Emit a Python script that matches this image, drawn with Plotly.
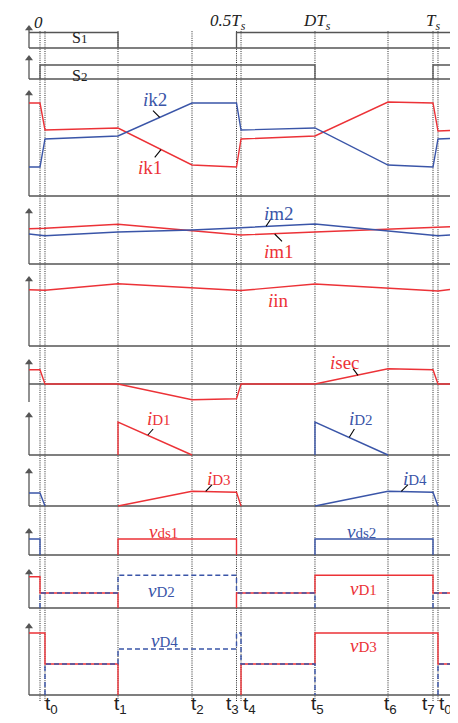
import plotly.graph_objects as go

RED = "#ec3237"
BLUE = "#3a55a8"
GRAY = "#555555"
SERIF = "Liberation Serif"
SANS = "Liberation Sans"

W, H = 458, 723

# ---- time instants (fraction of Ts) ----
T_START = -0.028
T0 = 0.0127
T1 = 0.1985
T2 = 0.3868
T3 = 0.5
T4 = 0.5115
T5 = 0.6997
T6 = 0.8855
T7 = 1.0
T0B = 1.0127
T_END = 1.0687
T_AXIS_END = 1.079

t_grid = [T_START, 0.0, T0, T1, T2, T3, T4, T5, T6, T7, T0B, T_END]
event_lines = [0.0, T0, T1, T2, T3, T4, T5, T6, T7, T0B]
tick_labels = ["t<sub>0</sub>", "t<sub>1</sub>", "t<sub>2</sub>", "t<sub>3</sub>", "t<sub>4</sub>",
               "t<sub>5</sub>", "t<sub>6</sub>", "t<sub>7</sub>", "t<sub>0</sub>"]
tick_pos = [0.028, 0.204, 0.400, 0.490, 0.532, 0.707, 0.893, 0.988, 1.033]
top_labels = ["<i>0</i>", "<i>0.5T<sub>s</sub></i>", "<i>DT<sub>s</sub></i>", "<i>T<sub>s</sub></i>"]
top_pos = [-0.004, 0.478, 0.705, 1.0]

# ---- gate signals ----
s1_t = [T_START, T1, T1, None, T3, T3, T_END]
s1_v = [1.55, 1.55, 0, None, 0, 1.55, 1.55]
s2_t = [0.0, 0.0, T5, T5, None, T7, T7, T_END]
s2_v = [0, 1.4, 1.4, 0, None, 0, 1.4, 1.4]

# ---- currents on t_grid ----
ik1 = [9.3, 9.3, 6.6, 6.8, 3.1, 2.9, 5.7, 6.0, 9.4, 9.3, 6.5, 6.6]
ik2 = [2.9, 2.9, 5.7, 6.0, 9.3, 9.3, 6.6, 6.8, 3.1, 2.9, 5.7, 5.8]
im1 = [3.53, 3.55, 3.57, 3.97, 3.3, 2.87, 2.9, 3.2, 3.45, 3.62, 3.65, 3.77]
im2 = [3.0, 2.88, 2.83, 3.2, 3.4, 3.6, 3.63, 4.0, 3.35, 2.9, 2.83, 2.97]
iin = [5.63, 5.6, 5.57, 6.23, 5.8, 5.53, 5.55, 6.2, 5.77, 5.5, 5.5, 5.77]
isec = [1.43, 1.43, 0, 0, -1.57, -1.47, 0, 0, 1.53, 1.43, 0, 0]

iD1_t = [T1, T1, T2]
iD1_v = [0, 3.3, 0]
iD2_t = [T5, T5, T6]
iD2_v = [0, 3.3, 0]
iD3_t = [T1, T2, T3, T4]
iD3_v = [0, 1.47, 1.37, 0]
iD4_t = [T_START, 0.0, T0, None, T5, T6, T7, T0B]
iD4_v = [1.3, 1.3, 0, None, 0, 1.47, 1.37, 0]

# ---- voltages ----
vds1_t = [T1, T1, T3, T3]
vds1_v = [0, 1.6, 1.6, 0]
vds2_t = [T_START, 0.0, 0.0, None, T5, T5, T7, T7]
vds2_v = [1.6, 1.6, 0, None, 0, 1.6, 1.6, 0]

vD1_t = [T_START, 0.0, 0.0, T1, T1, None, T3, T3, T5, T5, T7, T7, T_END]
vD1_v = [3.13, 3.13, 1.5, 1.5, 0, None, 0, 1.5, 1.5, 3.27, 3.27, 1.5, 1.5]
vD2_t = [0.0, 0.0, T1, T1, T3, T3, T5, T5, None, T7, T7, T_END]
vD2_v = [0, 1.5, 1.5, 3.27, 3.27, 1.5, 1.5, 0, None, 0, 1.5, 1.5]

vD3_t = [T_START, T0, T0, T1, T1, None, T4, T4, T5, T5, T0B, T0B, T_END]
vD3_v = [6.2, 6.2, 3.1, 3.1, 0, None, 0, 3.1, 3.1, 6.2, 6.2, 3.1, 3.1]
vD4_t = [T0, T0, T1, T1, T3, T3, T4, T4, T5, T5, None, T0B, T0B, T_END]
vD4_v = [0, 3.1, 3.1, 4.6, 4.6, 6.2, 6.2, 3.1, 3.1, 0, None, 0, 3.1, 3.1]

# ---- panel layout (pixel geometry) ----
PANELS = [
    ("s1", 40, 17, 43, 0),
    ("s2", 71, 47, 74, 0),
    ("ik", 188, 82, 191, 0),
    ("im", 256, 200, 259, 0),
    ("iin", 338, 268, 341, 0),
    ("isec", 376, 351, 397, -1.8),
    ("id12", 447, 404, 450, 0),
    ("id34", 498, 460, 501, 0),
    ("vds", 547, 520, 550, 0),
    ("vd12", 600, 561, 603, 0),
    ("vd34", 687, 615, 690, 0),
]
SCALE = 10.0       # px per unit
PX_PER_TS = 393.0
ARROW = 7          # arrowhead marker size

fig = go.Figure()
layout = dict(width=W, height=H, margin=dict(l=0, r=0, t=0, b=0),
              paper_bgcolor="white", plot_bgcolor="white", showlegend=False,
              xaxis=dict(domain=[0, 1], range=[-32 / 393, 426 / 393], visible=False, fixedrange=True))
annotations = []
shapes = []
YR = {}
for i, (key, pb, tip, bot, ylow) in enumerate(PANELS, start=1):
    name = "yaxis" if i == 1 else f"yaxis{i}"
    ref = "y" if i == 1 else f"y{i}"
    YR[key] = ref
    top = (pb - tip) / SCALE
    layout[name] = dict(domain=[1 - bot / H, 1 - tip / H],
                        range=[-(bot - pb) / SCALE, top],
                        visible=False, fixedrange=True, anchor="x")
    head_r = ARROW / 2.0
    # axis lines
    shapes.append(dict(type="line", xref="x", yref=ref, x0=T_START, x1=T_AXIS_END - head_r / PX_PER_TS,
                       y0=0, y1=0, layer="below", line=dict(color=GRAY, width=1.3)))
    shapes.append(dict(type="line", xref="x", yref=ref, x0=T_START, x1=T_START,
                       y0=ylow, y1=top - head_r / SCALE, layer="below", line=dict(color=GRAY, width=1.3)))
    # arrow heads
    fig.add_trace(go.Scatter(x=[T_AXIS_END - head_r / PX_PER_TS], y=[0], yaxis=ref, mode="markers",
                             marker=dict(symbol="triangle-right", size=ARROW, color=GRAY, line=dict(width=0)),
                             cliponaxis=False, hoverinfo="skip"))
    fig.add_trace(go.Scatter(x=[T_START], y=[top - head_r / SCALE], yaxis=ref, mode="markers",
                             marker=dict(symbol="triangle-up", size=ARROW, color=GRAY, line=dict(width=0)),
                             cliponaxis=False, hoverinfo="skip"))


def line(t, v, key, color, dash=None, width=1.4):
    fig.add_trace(go.Scatter(x=t, y=v, yaxis=YR[key], mode="lines",
                             line=dict(color=color, width=width, dash=dash),
                             hoverinfo="skip", connectgaps=False))


line(s1_t, s1_v, "s1", GRAY, width=1.3)
line(s2_t, s2_v, "s2", GRAY, width=1.3)
line(t_grid, ik1, "ik", RED)
line(t_grid, ik2, "ik", BLUE)
line(t_grid, im1, "im", RED)
line(t_grid, im2, "im", BLUE)
line(t_grid, iin, "iin", RED)
line(t_grid, isec, "isec", RED)
line(iD1_t, iD1_v, "id12", RED)
line(iD2_t, iD2_v, "id12", BLUE)
line(iD3_t, iD3_v, "id34", RED)
line(iD4_t, iD4_v, "id34", BLUE)
line(vds1_t, vds1_v, "vds", RED)
line(vds2_t, vds2_v, "vds", BLUE)
line(vD1_t, vD1_v, "vd12", RED)
line(vD2_t, vD2_v, "vd12", BLUE, dash="5px,3px")
line(vD3_t, vD3_v, "vd34", RED)
line(vD4_t, vD4_v, "vd34", BLUE, dash="5px,3px")

# event (dotted) lines
for te in event_lines:
    shapes.append(dict(type="line", xref="x", yref="paper", x0=te, x1=te,
                       y0=1 - 693 / H, y1=1 - 22 / H, layer="below",
                       line=dict(color="#111111", width=0.9, dash="1px,1.2px")))


def label(key, t, v, text, color, size=19):
    annotations.append(dict(x=t, y=v, xref="x", yref=YR[key], text=text, showarrow=False,
                            font=dict(family=SERIF, size=size, color=color),
                            xanchor="center", yanchor="middle"))


def leader(key, ta, va, tb, vb):
    shapes.append(dict(type="line", xref="x", yref=YR[key], x0=ta, y0=va, x1=tb, y1=vb,
                       line=dict(color="black", width=1.1)))


SM = "<span style='font-size:15px'>%s</span>"
label("s1", 0.1005, 1.1, "S<span style='font-size:13px'>1</span>", "#222222", 16)
label("s2", 0.1005, 0.4, "S<span style='font-size:13px'>2</span>", "#222222", 16)
label("ik", 0.2926, 9.63, "<i>i</i>k2", BLUE)
label("ik", 0.281, 2.9, "<i>i</i>k1", RED)
leader("ik", 0.2875, 8.53, 0.3046, 7.87)
leader("ik", 0.3079, 4.63, 0.2919, 3.87)
label("im", 0.608, 5.1, "<i>i</i>m2", BLUE)
label("im", 0.609, 1.3, "<i>i</i>m1", RED)
leader("im", 0.5878, 4.53, 0.5751, 3.77)
leader("im", 0.5972, 3.0, 0.6158, 2.27)
label("iin", 0.608, 4.6, "<i>i</i>in", RED)
label("isec", 0.777, 2.2, "<i>i</i>sec", RED)
leader("isec", 0.7964, 1.53, 0.8092, 0.87)
label("id12", 0.303, 3.7, "<i>i</i>" + SM % "D1", RED)
leader("id12", 0.288, 2.6, 0.2745, 2.0)
label("id12", 0.818, 3.7, "<i>i</i>" + SM % "D2", BLUE)
leader("id12", 0.800, 2.6, 0.787, 1.78)
label("id34", 0.455, 2.7, "<i>i</i>" + SM % "D3", RED)
leader("id34", 0.4216, 1.47, 0.4377, 2.13)
label("id34", 0.955, 2.7, "<i>i</i>" + SM % "D4", BLUE)
leader("id34", 0.9193, 1.47, 0.9364, 2.13)
label("vds", 0.3155, 2.4, "<i>v</i>" + SM % "ds1", RED)
label("vds", 0.819, 2.4, "<i>v</i>" + SM % "ds2", BLUE)
label("vd12", 0.310, 1.8, "<i>v</i>" + SM % "D2", BLUE)
label("vd12", 0.822, 2.0, "<i>v</i>" + SM % "D1", RED)
label("vd34", 0.318, 5.5, "<i>v</i>" + SM % "D4", BLUE)
label("vd34", 0.824, 5.0, "<i>v</i>" + SM % "D3", RED)

for txt, tp in zip(tick_labels, tick_pos):
    annotations.append(dict(x=tp, y=1 - 697 / H, xref="x", yref="paper", text=txt, showarrow=False,
                            font=dict(family=SANS, size=19, color="#222222"),
                            xanchor="center", yanchor="middle"))
for txt, tp in zip(top_labels, top_pos):
    annotations.append(dict(x=tp, y=1 - 14 / H, xref="x", yref="paper", text=txt, showarrow=False,
                            font=dict(family=SERIF, size=17, color="#222222"),
                            xanchor="center", yanchor="middle"))

layout["annotations"] = annotations
layout["shapes"] = shapes
fig.update_layout(**layout)
fig.write_html("out.html")
